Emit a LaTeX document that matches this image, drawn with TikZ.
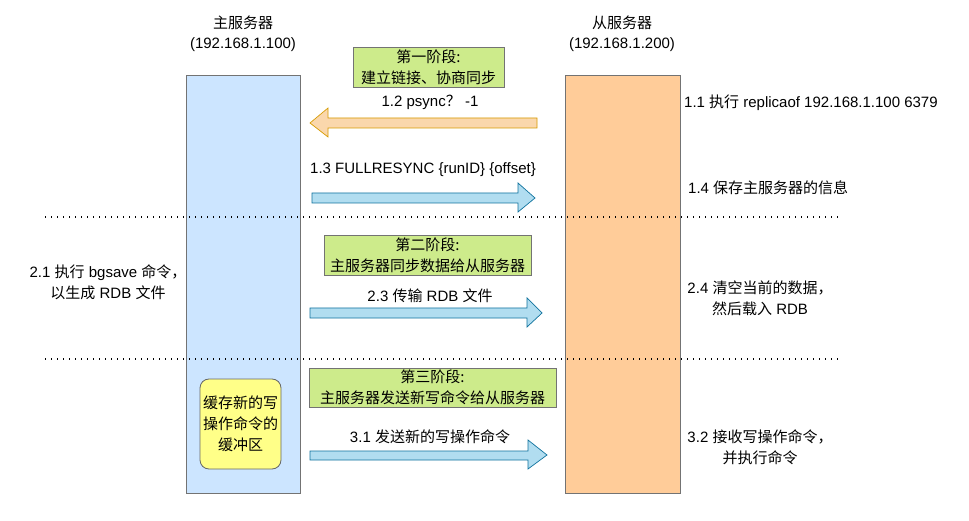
\documentclass[tikz,border=0pt]{standalone}
\usepackage{fontspec}
\setmainfont{Liberation Sans}
\newfontfamily\cjk{Noto Sans CJK SC}
\newcommand{\zh}[1]{{\cjk #1}}
\begin{document}
\begin{tikzpicture}[x=1pt,y=-1pt,
  every node/.style={font=\fontsize{15}{21}\selectfont, inner sep=0pt, align=center},
  bar/.style={draw=black!55, line width=0.9pt},
  phase/.style={draw=black!55, fill=phasegreen, line width=0.8pt},
  bluearrow/.style={draw=arrowblueline, fill=arrowblue, line width=0.7pt, line join=miter},
  orangearrow/.style={draw=arroworangeline, fill=arroworange, line width=0.7pt, line join=miter},
  sep/.style={line width=1.2pt, dash pattern=on 1.2pt off 4.8pt}]
\definecolor{masterblue}{HTML}{CCE5FF}
\definecolor{slaveorange}{HTML}{FFCC99}
\definecolor{phasegreen}{HTML}{CDEB8B}
\definecolor{bufyellow}{HTML}{FFFF88}
\definecolor{arrowblue}{HTML}{B1DDF0}
\definecolor{arrowblueline}{HTML}{10739E}
\definecolor{arroworange}{HTML}{FAD7AC}
\definecolor{arroworangeline}{HTML}{D79B00}
\useasboundingbox (0,0) rectangle (969,521);
\fill[white] (0,0) rectangle (969,521);

% bars
\draw[bar, fill=masterblue] (186,75) rectangle (300,493);
\draw[bar, fill=slaveorange] (565,75) rectangle (680,493);

% titles
\node (mt1) at (243,23) {\zh{主服务器}};
\node (mt2) at (243,45) {(192.168.1.100)};
\node (st1) at (622,23) {\zh{从服务器}};
\node (st2) at (622,45) {(192.168.1.200)};

% separators
\coordinate (s1a) at (45,217); \coordinate (s1b) at (842,217);
\coordinate (s2a) at (45,359); \coordinate (s2b) at (842,359);
\draw[sep] (s1a) -- (s1b);
\draw[sep] (s2a) -- (s2b);

% phase boxes
\draw[phase] (353,47) rectangle (504,87);
\node (p1) at (428.5,67) {\zh{第一阶段:}\\\zh{建立链接、协商同步}};
\draw[phase] (324,235) rectangle (531,275);
\node (p2) at (427.5,255) {\zh{第二阶段:}\\\zh{主服务器同步数据给从服务器}};
\draw[phase] (309,368) rectangle (556,407);
\node (p3) at (432.5,387.5) {\zh{第三阶段:}\\\zh{主服务器发送新写命令给从服务器}};

% buffer
\draw[draw=black!60, fill=bufyellow, line width=0.8pt, rounded corners=9pt] (200,379) rectangle (281,469);
\node (buf) at (240.5,424) {\zh{缓存新的写}\\\zh{操作命令的}\\\zh{缓冲区}};

% arrow 1.2 (orange, leftwards)
\draw[orangearrow] (537,118) -- (328,118) -- (328,108) -- (310,123) -- (328,137) -- (328,128) -- (537,128) -- cycle;
\node (l12) at (430,102) {1.2 psync\zh{？} -1};

% arrow 1.3
\draw[bluearrow] (312,193) -- (518,193) -- (518,183) -- (535,198) -- (518,212) -- (518,203) -- (312,203) -- cycle;
\node (l13) at (423,170) {1.3 FULLRESYNC \{runID\} \{offset\}};

% arrow 2.3
\draw[bluearrow] (310,308) -- (527,308) -- (527,298) -- (542,313) -- (527,327) -- (527,318) -- (310,318) -- cycle;
\node (l23) at (430,296) {2.3 \zh{传输} RDB \zh{文件}};

% arrow 3.1
\draw[bluearrow] (310,451) -- (528,451) -- (528,440) -- (547,455) -- (528,469) -- (528,460) -- (310,460) -- cycle;
\node (l31) at (430,437) {3.1 \zh{发送新的写操作命令}};

% side texts
\node (l21) at (108,282) {2.1 \zh{执行} bgsave \zh{命令，}\\\zh{以生成} RDB \zh{文件}};
\node[anchor=west] (l11) at (684,103) {1.1 \zh{执行} replicaof 192.168.1.100 6379};
\node[anchor=west] (l14) at (688,188) {1.4 \zh{保存主服务器的信息}};
\node (l24) at (760,298) {2.4 \zh{清空当前的数据，}\\\zh{然后载入} RDB};
\node (l32) at (760,447) {3.2 \zh{接收写操作命令，}\\\zh{并执行命令}};
\end{tikzpicture}
\end{document}
